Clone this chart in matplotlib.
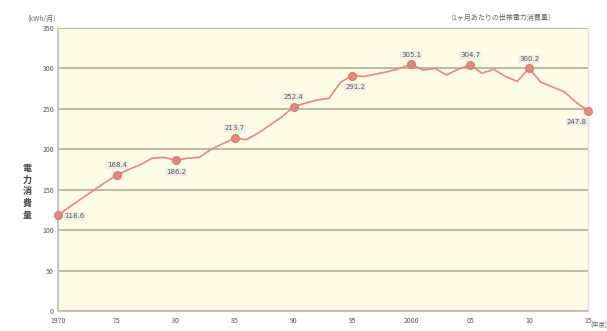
import matplotlib
matplotlib.use("Agg")
import matplotlib.pyplot as plt

plt.rcParams['font.family'] = ['Noto Sans CJK JP', 'DejaVu Sans']

years = list(range(1970, 2016))
usage = [118.6, 129, 139, 149, 159, 168.4, 175, 181, 189, 190,
         186.2, 189, 190, 200, 207, 213.7, 212, 220, 230, 240,
         252.4, 257, 261, 263, 283, 291.2, 290, 293, 296, 300,
         305.1, 298, 300, 292, 299, 304.7, 294, 299, 290, 284,
         300.2, 283, 277, 271, 258, 247.8]

marked_years = [1970, 1975, 1980, 1985, 1990, 1995, 2000, 2005, 2010, 2015]
tick_labels = ["1970", "75", "80", "85", "90", "95", "2000", "05", "10", "15"]
y_ticks = [0, 50, 100, 150, 200, 250, 300, 350]

# label offsets (points) for the marked values
offsets = {1970: (12, -1), 1975: (0, 7), 1980: (0, -8), 1985: (0, 7),
           1990: (0, 7), 1995: (2, -8), 2000: (0, 7), 2005: (0, 7),
           2010: (0, 7), 2015: (-8, -8)}

line_color = "#E8877F"
grid_color = "#B9B79A"

fig = plt.figure(figsize=(6.07, 3.31), dpi=100)
ax = fig.add_axes([0.0956, 0.0604, 0.873, 0.855])
ax.set_facecolor("#FEFCE6")

ax.plot(years, usage, color=line_color, lw=1.2, zorder=3, clip_on=False)
mv = [usage[years.index(y)] for y in marked_years]
ax.plot(marked_years, mv, "o", color=line_color, ms=5.5, zorder=4, clip_on=False,
        markeredgecolor="#E07A72")

for y, v in zip(marked_years, mv):
    dx, dy = offsets[y]
    ax.annotate(f"{v:.1f}", (y, v), xytext=(dx, dy), textcoords="offset points",
                ha="center", va="center", fontsize=5, color="#555555",
                family="DejaVu Sans", zorder=5,
                bbox=dict(boxstyle="square,pad=0.15", fc="#EEEEE6", ec="none", alpha=0.9))

ax.set_xlim(1970, 2015)
ax.set_ylim(0, 350)
ax.set_yticks(y_ticks)
ax.set_yticklabels([str(t) for t in y_ticks])
ax.set_xticks(marked_years)
ax.set_xticklabels(tick_labels)
ax.tick_params(axis="both", labelsize=5, colors="#555555", length=0, pad=3)
ax.tick_params(axis="x", pad=4)

ax.grid(axis="y", color=grid_color, lw=1.3)
ax.set_axisbelow(True)
ax.spines["top"].set_visible(False)
ax.spines["left"].set_color("#C8C8C0")
ax.spines["left"].set_linewidth(1.5)
ax.spines["bottom"].set_color("#C8C8B0")
ax.spines["right"].set_color("#E4E4DA")
ax.spines["right"].set_linewidth(1.0)

fig.text(0.068, 0.945, "(kWh/月)", fontsize=5, color="#666666", ha="center", va="center")
fig.text(0.825, 0.945, "（1ヶ月あたりの世帯電力消費量）", fontsize=5, color="#666666",
         ha="center", va="center")
fig.text(0.973, 0.004, "(年度)", fontsize=4.5, color="#666666", ha="left", va="bottom")
fig.text(0.045, 0.42, "\n".join("電力消費量"), fontsize=6.5, color="#444444",
         ha="center", va="center", linespacing=1.35, fontweight="bold")

fig.savefig("out.png", dpi=100, facecolor="white")
